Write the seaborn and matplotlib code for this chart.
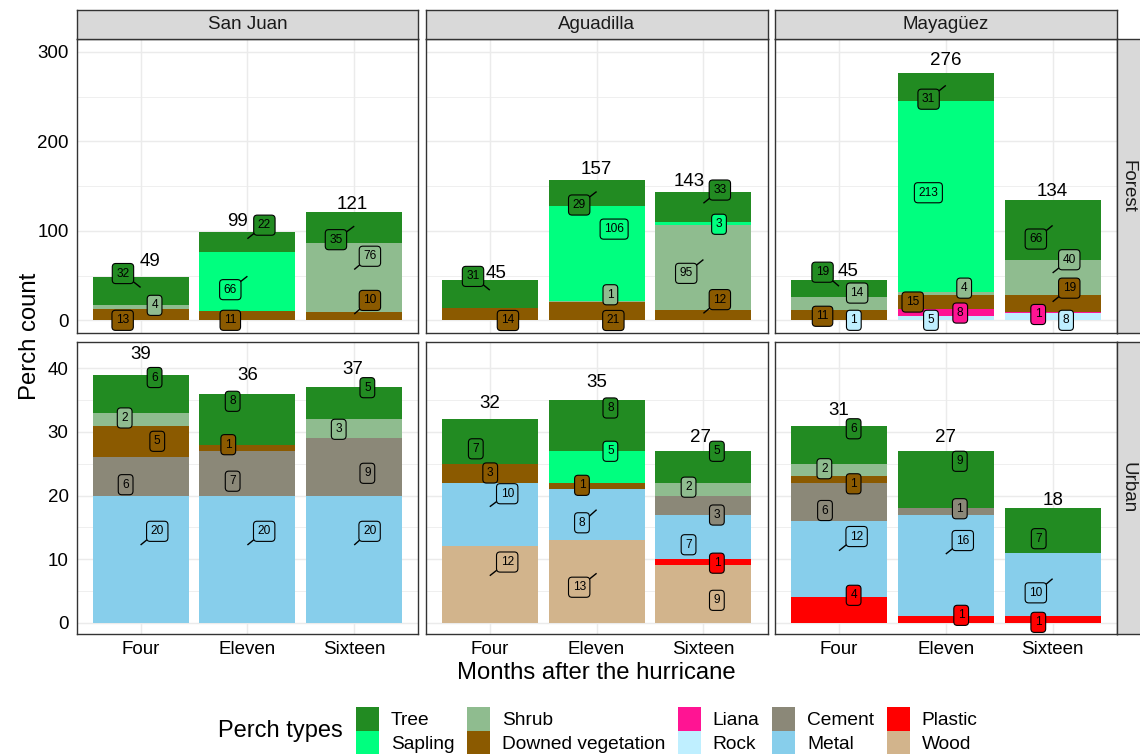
import matplotlib
matplotlib.use("Agg")
import matplotlib.pyplot as plt
from matplotlib.patches import Patch
from matplotlib.ticker import MultipleLocator
import pandas as pd
import seaborn as sns

# ---------------------------------------------------------------- data
locations = ["San Juan", "Aguadilla", "Mayagüez"]
habitats = ["Forest", "Urban"]
months = ["Four", "Eleven", "Sixteen"]

perch_types = ["Tree", "Sapling", "Shrub", "Downed vegetation", "Liana",
               "Rock", "Cement", "Metal", "Plastic", "Wood"]
perch_colors = ["#228B22", "#00FF7F", "#8FBC8F", "#8B5A00", "#FF1493",
                "#BFEFFF", "#8B8878", "#87CEEB", "#FF0000", "#D2B48C"]

# perch counts per month (rows: Four, Eleven, Sixteen; columns follow perch_types)
san_juan_forest = [[32, 0, 4, 13, 0, 0, 0, 0, 0, 0],
                   [22, 66, 0, 11, 0, 0, 0, 0, 0, 0],
                   [35, 0, 76, 10, 0, 0, 0, 0, 0, 0]]
aguadilla_forest = [[31, 0, 0, 14, 0, 0, 0, 0, 0, 0],
                    [29, 106, 1, 21, 0, 0, 0, 0, 0, 0],
                    [33, 3, 95, 12, 0, 0, 0, 0, 0, 0]]
mayaguez_forest = [[19, 0, 14, 11, 0, 1, 0, 0, 0, 0],
                   [31, 213, 4, 15, 8, 5, 0, 0, 0, 0],
                   [66, 0, 40, 19, 1, 8, 0, 0, 0, 0]]
san_juan_urban = [[6, 0, 2, 5, 0, 0, 6, 20, 0, 0],
                  [8, 0, 0, 1, 0, 0, 7, 20, 0, 0],
                  [5, 0, 3, 0, 0, 0, 9, 20, 0, 0]]
aguadilla_urban = [[7, 0, 0, 3, 0, 0, 0, 10, 0, 12],
                   [8, 5, 0, 1, 0, 0, 0, 8, 0, 13],
                   [5, 0, 2, 0, 0, 0, 3, 7, 1, 9]]
mayaguez_urban = [[6, 0, 2, 1, 0, 0, 6, 12, 4, 0],
                  [9, 0, 0, 0, 0, 0, 1, 16, 1, 0],
                  [7, 0, 0, 0, 0, 0, 0, 10, 1, 0]]

counts = {
    ("San Juan", "Forest"): san_juan_forest,
    ("Aguadilla", "Forest"): aguadilla_forest,
    ("Mayagüez", "Forest"): mayaguez_forest,
    ("San Juan", "Urban"): san_juan_urban,
    ("Aguadilla", "Urban"): aguadilla_urban,
    ("Mayagüez", "Urban"): mayaguez_urban,
}

# --------------------------------------------------- label placement
# (dx in bar widths, dy from segment middle, optional leader anchor dy)
D = "Downed vegetation"
label_offsets = {
    ("San Juan", "Forest"): [
        {"Tree": (-0.165, 19.4, 3.9), "Shrub": (0.131, 1.9), D: (-0.168, -6.3)},
        {"Tree": (0.159, 18.4, 3.3), "Sapling": (-0.160, -9.6, 5.4), D: (-0.160, -5.3)},
        {"Tree": (-0.171, -13.3, 1.8), "Shrub": (0.147, 23.7, 8.9), D: (0.147, 17.4, 2.2)},
    ],
    ("Aguadilla", "Forest"): [
        {"Tree": (-0.157, 19.7, 4.4), D: (0.170, -7.0)},
        {"Tree": (-0.163, -13.6, 1.4), "Sapling": (0.164, 27.0), "Shrub": (0.129, 7.2),
         D: (0.157, -10.5)},
        {"Tree": (0.154, 19.1, 4.4), "Sapling": (0.146, -1.1), "Shrub": (-0.161, -6.9, 8.5),
         D: (0.154, 17.3, 2.0)},
    ],
    ("Mayagüez", "Forest"): [
        {"Tree": (-0.154, 18.4, 2.8), "Shrub": (0.170, 11.6), D: (-0.154, -1.8),
         "Rock": (0.139, -0.3)},
        {"Tree": (-0.161, -13.5, 1.9), "Sapling": (-0.163, 4.1), "Shrub": (0.172, 6.1),
         D: (-0.310, 0.1), "Liana": (0.135, -0.7), "Rock": (-0.139, -2.3)},
        {"Tree": (-0.157, -10.1, 5.1), "Shrub": (0.156, 19.8, 5.1), D: (0.156, 17.6, 2.4),
         "Liana": (-0.135, -1.8), "Rock": (0.126, -3.8)},
    ],
    ("San Juan", "Urban"): [
        {"Tree": (0.131, 2.55), "Shrub": (-0.149, 0.19), D: (0.156, 0.02),
         "Cement": (-0.140, -1.3), "Metal": (0.156, 4.37, 2.22)},
        {"Tree": (-0.138, 2.81), D: (-0.179, 0.49), "Cement": (-0.138, -1.25),
         "Metal": (0.157, 4.37, 2.22)},
        {"Tree": (0.123, 2.45), "Shrub": (-0.145, -0.09), "Cement": (0.123, -1.01),
         "Metal": (0.144, 4.37, 2.22)},
    ],
    ("Aguadilla", "Urban"): [
        {"Tree": (-0.131, -1.16), D: (0.004, 0.04), "Metal": (0.163, 3.28, 1.24),
         "Wood": (0.163, 3.54, 1.39)},
        {"Tree": (0.129, 2.76), "Sapling": (0.129, 2.45), D: (-0.137, 0.1),
         "Metal": (-0.137, -1.29, 0.77), "Wood": (-0.163, -0.92, 1.27)},
        {"Tree": (0.126, 2.45), "Shrub": (-0.139, 0.31), "Cement": (0.126, -1.57),
         "Metal": (-0.139, -1.24), "Plastic": (0.126, -0.14), "Wood": (0.126, -0.98)},
    ],
    ("Mayagüez", "Urban"): [
        {"Tree": (0.137, 2.49), "Shrub": (-0.137, 0.21), D: (0.137, -0.66),
         "Cement": (-0.131, -1.36), "Metal": (0.165, 3.55, 1.32), "Plastic": (0.137, 2.31)},
        {"Tree": (0.131, 2.88), "Cement": (0.131, 0.42), "Metal": (0.159, 3.92, 1.8),
         "Plastic": (0.144, 0.66)},
        {"Tree": (-0.130, -1.29), "Metal": (-0.157, -1.3, 0.92), "Plastic": (-0.134, -0.44)},
    ],
}

# offsets of the bar totals (dx in bar widths, dy above the bar top)
total_offsets = {
    ("San Juan", "Forest"): [(0.089, 17.1), (-0.096, 11.9), (-0.016, 8.4)],
    ("Aguadilla", "Forest"): [(0.062, 7.4), (0.0, 11.3), (-0.134, 12.3)],
    ("Mayagüez", "Forest"): [(0.088, 10.0), (0.0, 14.2), (0.0, 10.2)],
    ("San Juan", "Urban"): [(0.0, 3.09), (0.0, 2.79), (-0.016, 2.84)],
    ("Aguadilla", "Urban"): [(0.0, 2.5), (0.0, 2.8), (-0.025, 2.09)],
    ("Mayagüez", "Urban"): [(0.0, 2.44), (0.0, 2.09), (0.0, 1.29)],
}

# long-format table for seaborn
rows = []
for (loc, hab), mat in counts.items():
    for mi, month in enumerate(months):
        for ti, ptype in enumerate(perch_types):
            rows.append({"location": loc, "habitat": hab, "month": month,
                         "m": mi, "perch": ptype, "count": mat[mi][ti]})
df = pd.DataFrame(rows)
palette = dict(zip(perch_types, perch_colors))

# ---------------------------------------------------------------- style
sns.set_theme(style="white")
plt.rcParams["font.family"] = ["Liberation Sans", "DejaVu Sans"]

W, H = 1140, 754
fig = plt.figure(figsize=(W / 100, H / 100), dpi=100)


def px_axes(x0, y0, x1, y1):
    return fig.add_axes([x0 / W, 1 - y1 / H, (x1 - x0) / W, (y1 - y0) / H])


col_left = [76.5, 425.7, 774.9]
col_w = 341.8
row_tb = [(39.0, 333.3), (341.7, 634.3)]
row_ylim = [(-14.3, 314.2), (-1.82, 44.18)]
row_major = [[0, 100, 200, 300], [0, 10, 20, 30, 40]]
row_minor = [50, 5]

BORDER = "#333333"
GRID = "#EBEBEB"
STRIP = "#D9D9D9"
TICK_FS = 13.5
TITLE_FS = 17.2

for ri, hab in enumerate(habitats):
    y0, y1 = row_tb[ri]
    for ci, loc in enumerate(locations):
        x0 = col_left[ci]
        ax = px_axes(x0, y0, x0 + col_w, y1)
        sub = df[(df["location"] == loc) & (df["habitat"] == hab)]
        sns.histplot(data=sub, x="m", weights="count", hue="perch",
                     hue_order=perch_types, palette=palette, multiple="stack",
                     discrete=True, shrink=0.9, alpha=1, linewidth=0,
                     legend=False, ax=ax, zorder=2)
        ax.set_xlim(-0.6, 2.6)
        ax.set_ylim(*row_ylim[ri])
        ax.set_xlabel("")
        ax.set_ylabel("")
        ax.set_xticks([0, 1, 2])
        ax.set_xticklabels(months)
        ax.set_yticks(row_major[ri])
        ax.yaxis.set_minor_locator(MultipleLocator(row_minor[ri]))
        ax.set_axisbelow(True)
        ax.grid(True, which="major", color=GRID, lw=1.05, zorder=0)
        ax.grid(True, which="minor", axis="y", color=GRID, lw=0.55, zorder=0)
        ax.set_facecolor("white")
        for sp in ax.spines.values():
            sp.set_color(BORDER)
            sp.set_linewidth(1.0)
            sp.set_zorder(6)
        ax.tick_params(axis="both", which="minor", length=0)
        ax.tick_params(axis="both", which="major", length=2.75, width=0.8,
                       color=BORDER, labelsize=TICK_FS, labelcolor="black")
        ax.tick_params(axis="y", pad=3.0)
        ax.tick_params(axis="x", pad=2.0)
        if ri == 0:
            ax.tick_params(axis="x", length=0, labelbottom=False)
        if ci != 0:
            ax.tick_params(axis="y", length=0, labelleft=False)

        mat = counts[(loc, hab)]
        for mi in range(len(months)):
            vals = mat[mi]
            total = sum(vals)
            # segment middles, stacked from the bottom type upwards
            mids = {}
            base = 0
            for ti in reversed(range(len(perch_types))):
                v = vals[ti]
                mids[perch_types[ti]] = base + v / 2
                base += v
            offs = label_offsets[(loc, hab)][mi]
            for ti, ptype in enumerate(perch_types):
                v = vals[ti]
                if v == 0:
                    continue
                off = offs[ptype]
                lx = mi + off[0]
                ly = mids[ptype] + off[1]
                if len(off) > 2:
                    ax.plot([mi, lx], [mids[ptype] + off[2], ly], color="black",
                            lw=1.0, zorder=4, clip_on=False,
                            solid_capstyle="butt")
                ax.text(lx, ly, f"{v}", ha="center", va="center", fontsize=8.6,
                        color="black", zorder=5, clip_on=False,
                        bbox=dict(boxstyle="round,pad=0.34,rounding_size=0.3",
                                  facecolor=perch_colors[ti], edgecolor="black",
                                  linewidth=0.8))
            tdx, tdy = total_offsets[(loc, hab)][mi]
            ax.text(mi + tdx, total + tdy, f"{total}", ha="center", va="center",
                    fontsize=13.5, color="black", zorder=5)

# facet strips
for ci, loc in enumerate(locations):
    x0 = col_left[ci]
    sax = px_axes(x0, 10.0, x0 + col_w, 39.0)
    sax.set_facecolor(STRIP)
    sax.set_xticks([])
    sax.set_yticks([])
    for sp in sax.spines.values():
        sp.set_color(BORDER)
        sp.set_linewidth(1.0)
    sax.text(0.5, 0.5, loc, ha="center", va="center", fontsize=TICK_FS,
             color="#1A1A1A", transform=sax.transAxes)

for ri, hab in enumerate(habitats):
    y0, y1 = row_tb[ri]
    sax = px_axes(1116.7, y0, 1140.0, y1)
    sax.set_facecolor(STRIP)
    sax.set_xticks([])
    sax.set_yticks([])
    for sp in sax.spines.values():
        sp.set_color(BORDER)
        sp.set_linewidth(1.0)
    sax.spines["right"].set_visible(False)
    sax.text(0.5, 0.5, hab, ha="center", va="center", fontsize=TICK_FS,
             rotation=-90, color="#1A1A1A", transform=sax.transAxes)

# axis titles
fig.text(596.6 / W, 1 - 673 / H, "Months after the hurricane", ha="center",
         va="center", fontsize=TITLE_FS, color="black")
fig.text(30 / W, 1 - 336.5 / H, "Perch count", ha="center", va="center",
         rotation=90, fontsize=TITLE_FS, color="black")

# legend
handles = [Patch(facecolor=c, edgecolor="none", label=t)
           for t, c in zip(perch_types, perch_colors)]
fs = 13.8
fs_px = fs * 100 / 72
key_px = 23.3
fig.legend(handles=handles, ncol=5, loc="upper left",
           bbox_to_anchor=(356 / W, 1 - 707.3 / H), frameon=False,
           fontsize=fs, handlelength=23 / fs_px,
           handleheight=(key_px / fs_px - 0.245) / 0.65,
           handletextpad=0.62, columnspacing=0.66, labelspacing=0.0,
           borderpad=0.0, borderaxespad=0.0, labelcolor="black")
fig.text(218 / W, 1 - 731.5 / H, "Perch types", ha="left", va="center",
         fontsize=17, color="black")

fig.savefig("out.png", dpi=100)
